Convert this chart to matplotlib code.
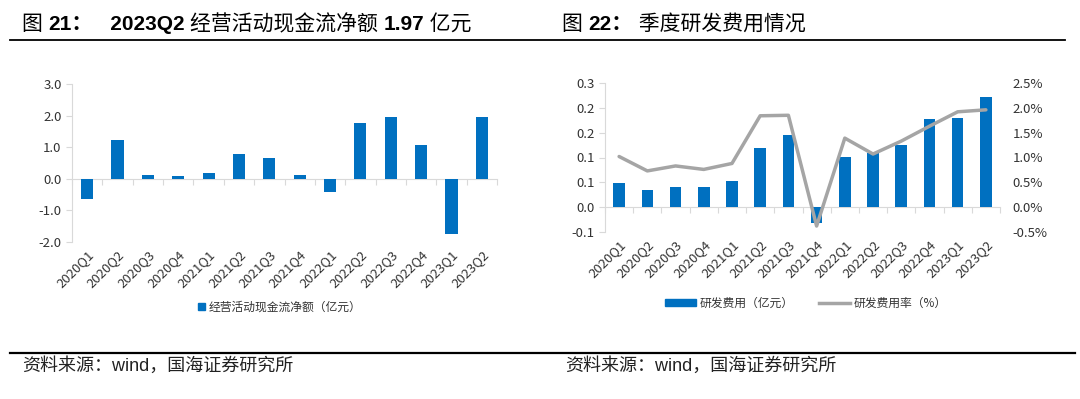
import matplotlib
matplotlib.use("Agg")
import matplotlib.pyplot as plt
from matplotlib.patches import Patch
from matplotlib.lines import Line2D
from matplotlib.text import Annotation
import numpy as np

plt.rcParams['font.family'] = ['Noto Sans CJK SC', 'DejaVu Sans']
plt.rcParams['axes.unicode_minus'] = False

quarters = ['2020Q1', '2020Q2', '2020Q3', '2020Q4', '2021Q1', '2021Q2', '2021Q3',
            '2021Q4', '2022Q1', '2022Q2', '2022Q3', '2022Q4', '2023Q1', '2023Q2']

# 经营活动现金流净额（亿元）
cash_flow = [-0.64, 1.22, 0.11, 0.08, 0.18, 0.78, 0.67, 0.11, -0.41, 1.77, 1.97, 1.08, -1.76, 1.97]

# 研发费用（亿元） and 研发费用率（%）
rd_cost = [0.048, 0.035, 0.040, 0.040, 0.053, 0.119, 0.145, -0.032, 0.102, 0.109, 0.126, 0.177, 0.179, 0.222]
rd_rate = [1.02, 0.73, 0.83, 0.76, 0.88, 1.84, 1.85, -0.38, 1.39, 1.07, 1.33, 1.63, 1.92, 1.96]

left_ticks = [-2.0, -1.0, 0.0, 1.0, 2.0, 3.0]
rd_ticks = [-0.05, 0.0, 0.05, 0.10, 0.15, 0.20, 0.25]
rd_tick_labels = ['-0.1', '0.0', '0.1', '0.1', '0.2', '0.2', '0.3']
rate_ticks = [-0.5, 0.0, 0.5, 1.0, 1.5, 2.0, 2.5]

BLUE = '#0070C0'
GRAY_LINE = '#A5A5A5'
AXIS = '#D9D9D9'
TXT = '#333333'
TICK_FS = 9.5

W, H = 1080, 399
fig = plt.figure(figsize=(W / 100, H / 100), dpi=100)


def fx(px):
    return px / W


def fy(py):
    return 1 - py / H


def style_axes(ax, n):
    x = np.arange(n)
    for s in ['top', 'right']:
        ax.spines[s].set_visible(False)
    ax.spines['left'].set_color(AXIS)
    ax.spines['bottom'].set_color(AXIS)
    ax.spines['bottom'].set_position(('data', 0))
    ax.set_xlim(-0.5, n - 0.5)
    # boundary ticks on the zero line, no labels
    ax.set_xticks(np.arange(n + 1) - 0.5)
    ax.tick_params(axis='x', length=4, color=AXIS, labelbottom=False)
    ax.tick_params(axis='y', length=4, color=AXIS, labelsize=TICK_FS, labelcolor=TXT)
    sec = ax.secondary_xaxis('bottom')
    sec.set_xticks(x)
    sec.set_xticklabels(quarters, rotation=45, ha='right', rotation_mode='anchor',
                        fontsize=TICK_FS, color=TXT)
    sec.tick_params(length=0, pad=4)
    sec.spines['bottom'].set_visible(False)


# ---- left chart
ax1 = fig.add_axes([fx(72), fy(242), fx(425), (242 - 84) / H])
ax1.bar(np.arange(len(quarters)), cash_flow, width=0.4, color=BLUE, zorder=3)
ax1.set_ylim(-2.0, 3.0)
ax1.set_yticks(left_ticks)
ax1.set_yticklabels([f'{v:.1f}' for v in left_ticks])
style_axes(ax1, len(quarters))

# ---- right chart
ax2 = fig.add_axes([fx(605), fy(232), fx(395), (232 - 83) / H])
ax2.bar(np.arange(len(quarters)), rd_cost, width=0.41, color=BLUE, zorder=3)
ax2.set_ylim(-0.05, 0.25)
ax2.set_yticks(rd_ticks)
ax2.set_yticklabels(rd_tick_labels)
style_axes(ax2, len(quarters))

ax3 = ax2.twinx()
ax3.plot(np.arange(len(quarters)), rd_rate, color=GRAY_LINE, lw=2.5, solid_capstyle='round')
ax3.set_ylim(-0.5, 2.5)
ax3.set_yticks(rate_ticks)
ax3.set_yticklabels([f'{v:.1f}%' for v in rate_ticks])
for s in ['top', 'right', 'left', 'bottom']:
    ax3.spines[s].set_visible(False)
ax3.tick_params(axis='y', length=0, labelsize=TICK_FS, labelcolor=TXT, pad=9)

# ---- legends
fig.legend(handles=[Patch(color=BLUE, label='经营活动现金流净额（亿元）')],
           loc='center', bbox_to_anchor=(fx(280), fy(307)), frameon=False,
           fontsize=8.5, handlelength=0.6, handleheight=0.6, handletextpad=0.3,
           labelcolor=TXT)
fig.legend(handles=[Patch(color=BLUE, label='研发费用（亿元）'),
                    Line2D([], [], color=GRAY_LINE, lw=2.5, label='研发费用率（%）')],
           loc='center', bbox_to_anchor=(fx(806), fy(303)), frameon=False,
           fontsize=8.5, handlelength=2.6, handleheight=0.5, handletextpad=0.3,
           columnspacing=2.2, ncol=2, labelcolor=TXT)


# ---- titles (mixed weights, each piece placed after the previous one)
def title(x, y, pieces, size=15):
    last = None
    for txt, bold in pieces:
        kw = dict(fontsize=size, color='black',
                  family=['Liberation Sans', 'Noto Sans CJK SC'],
                  fontweight='bold' if bold else 'normal')
        if last is None:
            last = fig.text(x, y, txt, va='baseline', **kw)
        else:
            last = fig.add_artist(Annotation(txt, xy=(1, 0), xycoords=last,
                                             va='bottom', ha='left', **kw))


title(fx(22), fy(30), [('图 ', False), ('21：', True), ('   2023Q2 ', True),
                       ('经营活动现金流净额 ', False), ('1.97', True), (' 亿元', False)])
title(fx(562), fy(30), [('图 ', False), ('22：', True), (' 季度研发费用情况', False)])

# rules
fig.add_artist(Line2D([fx(10), fx(1065)], [fy(40), fy(40)], color='black', lw=1.3))
fig.add_artist(Line2D([fx(10), fx(1075)], [fy(353), fy(353)], color='black', lw=1.6))

# sources
for x0 in (22, 565):
    fig.text(fx(x0), fy(366), '资料来源：wind，国海证券研究所', fontsize=13,
             va='center', family=['Liberation Sans', 'Noto Sans CJK SC'], color='#222222')

fig.savefig('out.png', dpi=100)
